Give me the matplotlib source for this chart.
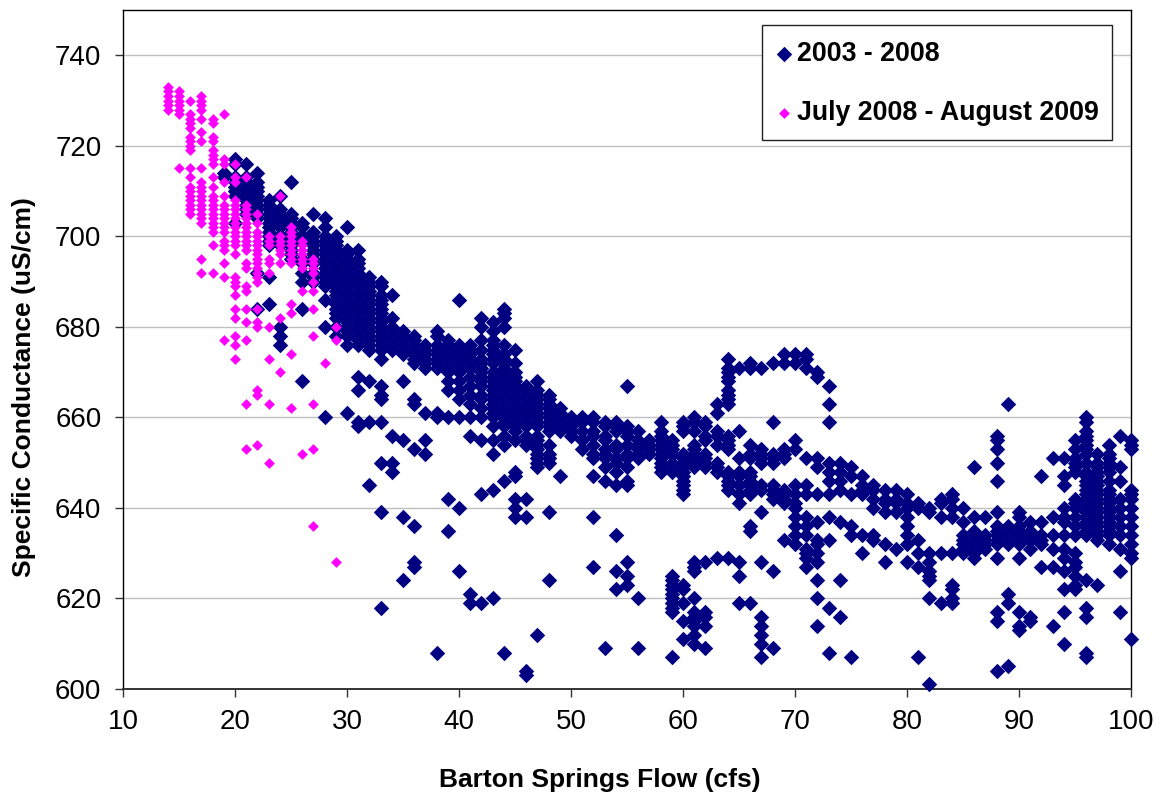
#!/usr/bin/env python3
"""Specific conductance against Barton Springs flow, two periods."""
import matplotlib

matplotlib.use("Agg")
import matplotlib.pyplot as plt
from matplotlib.patches import Rectangle

plt.rcParams["font.family"] = ["Liberation Sans", "DejaVu Sans"]

NAVY = "#000080"
PINK = "#ff00ff"

# values, one row per flow (cfs)
pink_flow = [14, 15, 16, 17, 18, 19, 20, 21, 22, 23, 24, 25, 26, 27, 28, 29]
pink_cond = [
    [733, 732, 731, 730, 729, 728],
    [732, 731, 730, 729, 728, 727, 715],
    [730, 727, 726, 725, 724, 722, 721, 720, 719, 715, 713, 711, 710, 709, 708, 707, 706, 705],
    [731, 730, 729, 728, 726, 723, 721, 715, 712, 711, 710, 709, 708, 707, 706, 705, 704, 703, 695, 692],
    [726, 725, 722, 721, 719, 718, 717, 716, 713, 711, 709, 708, 707, 706, 705, 704, 703, 702, 701, 698, 692],
    [727, 717, 716, 712, 709, 707, 706, 705, 704, 703, 702, 701, 699, 698, 697, 694, 691, 677],
    [716, 713, 712, 708, 707, 706, 705, 704, 703, 702, 701, 700, 699, 698, 696, 691, 690, 689, 687, 684, 682, 678, 676, 673],
    [713, 707, 706, 705, 704, 703, 702, 701, 700, 699, 698, 697, 694, 693, 689, 688, 684, 681, 677, 663, 653],
    [705, 703, 701, 700, 699, 698, 697, 696, 695, 694, 693, 692, 691, 690, 684, 681, 680, 666, 665, 654],
    [700, 699, 698, 695, 694, 692, 680, 673, 663, 650],
    [709, 700, 699, 698, 697, 696, 694, 682, 670],
    [702, 701, 700, 699, 698, 697, 696, 695, 694, 685, 683, 674, 662],
    [699, 698, 697, 696, 695, 694, 693, 688, 652],
    [695, 694, 693, 692, 690, 688, 684, 678, 663, 653, 636],
    [672],
    [680, 677, 628],
]

navy_flow = list(range(19, 101))
navy_cond = [
    [714, 713],  # 19
    [717, 716, 713, 712, 711, 710, 709, 703],
    [716, 713, 712, 711, 710, 709, 708, 705, 707, 706],
    [714, 712, 711, 710, 709, 708, 707, 706, 705, 704, 692, 684],
    [708, 707, 706, 705, 704, 703, 702, 701, 700, 699, 698, 691, 685],
    [709, 706, 705, 704, 703, 702, 700, 699, 698, 680, 678, 676],
    [712, 705, 704, 703, 702, 701, 700, 699, 698, 697, 696, 695],
    [703, 702, 700, 699, 695, 694, 692, 690, 684, 668],
    [705, 701, 700, 699, 698, 697, 696, 695, 694, 692, 691, 690],
    [704, 702, 700, 699, 698, 697, 696, 695, 694, 693, 692, 691, 690, 689, 686, 680, 660],
    [700, 699, 698, 697, 696, 695, 694, 693, 692, 691, 690, 689, 688, 687, 686, 685, 684, 683, 682, 680, 678],
    [702, 697, 696, 695, 694, 693, 692, 691, 690, 689, 688, 687, 686, 685, 684, 683, 682, 681, 680, 679, 678, 676, 661],
    [697, 695, 694, 693, 692, 691, 690, 689, 688, 687, 686, 685, 684, 683, 682, 681, 680, 679, 678, 677, 676, 669, 666, 659, 658],
    [691, 690, 689, 688, 687, 686, 685, 684, 683, 682, 681, 680, 679, 678, 677, 676, 675, 668, 659, 645],
    [690, 689, 687, 686, 685, 684, 683, 682, 681, 680, 679, 678, 677, 676, 675, 673, 667, 665, 664, 659, 650, 639, 618],
    [687, 682, 680, 679, 678, 677, 676, 675, 656, 650, 648],
    [679, 678, 677, 676, 675, 674, 668, 655, 638, 624],
    [678, 677, 676, 675, 674, 673, 672, 664, 663, 653, 636, 628, 627],
    [676, 675, 674, 673, 672, 671, 661, 655, 652],
    [679, 678, 676, 675, 674, 673, 672, 671, 661, 660, 608],
    [677, 676, 675, 674, 673, 672, 671, 670, 668, 666, 660, 642, 635],
    [686, 676, 675, 674, 673, 672, 671, 670, 668, 666, 664, 660, 640, 626],  # 40
    [676, 675, 674, 673, 672, 671, 669, 667, 665, 663, 660, 656, 621, 619],
    [682, 680, 677, 675, 673, 672, 671, 670, 669, 668, 667, 665, 664, 662, 660, 655, 643, 619],
    [681, 679, 677, 676, 675, 674, 673, 672, 670, 669, 668, 667, 666, 665, 664, 663, 662, 661, 660, 658, 655, 652, 644, 620],
    [684, 683, 682, 680, 676, 674, 673, 672, 671, 670, 669, 668, 667, 666, 665, 664, 663, 662, 661, 660, 659, 658, 656, 654, 646, 608],
    [675, 672, 670, 669, 668, 667, 666, 665, 664, 663, 662, 661, 660, 659, 658, 657, 655, 648, 647, 642, 640, 638],
    [667, 666, 665, 664, 663, 662, 661, 660, 659, 658, 656, 655, 654, 642, 638, 604, 603],
    [668, 666, 665, 664, 663, 662, 661, 660, 659, 658, 656, 655, 654, 653, 652, 651, 650, 649, 612],
    [665, 664, 663, 662, 661, 660, 659, 658, 657, 654, 652, 651, 650, 639, 624],
    [662, 661, 660, 659, 658, 657, 647],
    [660, 659, 658, 657, 656],  # 50
    [660, 659, 657, 655, 653],
    [660, 659, 657, 656, 654, 652, 651, 647, 638, 627],
    [659, 658, 656, 655, 653, 652, 651, 649, 646, 609],
    [659, 658, 657, 654, 653, 651, 650, 648, 645, 634, 626, 622],
    [667, 658, 657, 656, 654, 652, 651, 649, 646, 645, 628, 625, 623],
    [657, 655, 654, 653, 652, 651, 620, 609],
    [655, 654, 653, 652],
    [659, 657, 656, 655, 654, 653, 652, 651, 650, 649, 648],
    [655, 654, 653, 652, 650, 649, 648, 625, 624, 623, 622, 621, 620, 619, 618, 617, 607],
    [659, 658, 657, 652, 651, 650, 649, 648, 647, 646, 645, 644, 643, 623, 622, 619, 615, 611],  # 60
    [660, 659, 657, 654, 653, 652, 651, 650, 649, 628, 627, 626, 620, 617, 616, 615, 614, 612, 610],
    [659, 658, 656, 655, 652, 651, 650, 649, 628, 617, 616, 614, 609],
    [663, 661, 657, 656, 654, 650, 649, 648, 629],
    [673, 671, 670, 669, 668, 666, 665, 664, 663, 656, 655, 654, 653, 648, 647, 646, 645, 644, 629],
    [671, 657, 651, 648, 647, 645, 643, 641, 628, 625, 619],
    [672, 671, 654, 652, 651, 648, 647, 646, 645, 644, 643, 636, 635, 619],
    [671, 653, 652, 651, 650, 645, 644, 639, 628, 616, 614, 612, 610, 607],
    [672, 659, 652, 651, 650, 645, 644, 643, 642, 626, 609],
    [674, 672, 653, 652, 651, 644, 643, 642, 641, 633],
    [674, 672, 655, 653, 645, 643, 641, 640, 638, 636, 634, 632],  # 70
    [674, 673, 671, 651, 645, 643, 638, 636, 634, 631, 630, 629, 627],
    [670, 669, 651, 649, 643, 637, 633, 632, 630, 628, 624, 620, 614],
    [667, 663, 659, 650, 648, 646, 643, 638, 633, 618, 608],
    [650, 648, 646, 644, 637, 624, 616],
    [649, 647, 643, 636, 634, 607],
    [647, 645, 644, 643, 634, 630],
    [645, 644, 642, 640, 634, 633],
    [644, 642, 641, 639, 632, 628],
    [644, 642, 641, 639, 631],
    [643, 641, 640, 638, 636, 634, 632, 628],  # 80
    [641, 640, 633, 630, 627, 607],
    [640, 639, 630, 628, 626, 625, 624, 620, 601],
    [642, 641, 638, 630, 619],
    [643, 642, 640, 638, 630, 623, 622, 620, 619],
    [640, 637, 634, 633, 632, 631, 630],
    [649, 638, 635, 634, 633, 632, 631, 630, 629],
    [638, 634, 633, 632, 631],
    [656, 655, 653, 650, 646, 639, 636, 635, 634, 633, 632, 629, 617, 615, 604],
    [663, 636, 635, 634, 633, 632, 621, 619, 605],
    [639, 638, 636, 635, 634, 633, 632, 629, 617, 614, 613],  # 90
    [637, 635, 634, 633, 631, 616, 615],
    [647, 637, 634, 633, 632, 627],
    [651, 638, 634, 631, 627, 614],
    [651, 647, 645, 640, 638, 637, 634, 631, 629, 626, 622, 617, 610],
    [655, 653, 651, 650, 649, 648, 642, 641, 640, 638, 636, 634, 630, 628, 627, 625, 623, 622],
    [660, 659, 657, 656, 655, 654, 653, 652, 650, 648, 647, 646, 645, 644, 643, 642, 641, 640, 639, 638, 637, 636, 635, 634, 624, 618, 616, 608, 607],
    [652, 650, 649, 648, 647, 646, 645, 644, 643, 642, 641, 640, 639, 638, 637, 636, 635, 634, 633, 623],
    [654, 652, 651, 650, 649, 648, 646, 644, 643, 642, 641, 640, 639, 638, 637, 636, 635, 634, 632],
    [656, 649, 646, 642, 640, 638, 636, 634, 631, 626, 617],
    [655, 654, 653, 644, 643, 642, 640, 638, 636, 634, 632, 630, 629, 611],  # 100
]

x_ticks = list(range(10, 101, 10))
y_ticks = list(range(600, 741, 20))


def flatten(flows, rows):
    xs, ys = [], []
    for f, row in zip(flows, rows):
        xs += [f] * len(row)
        ys += row
    return xs, ys


fig = plt.figure(figsize=(11.65, 7.93), dpi=100)
ax = fig.add_axes([123 / 1165, 1 - 689 / 793, (1131 - 123) / 1165, (689 - 10) / 793])

ax.set_xlim(10, 100)
ax.set_ylim(600, 750)
ax.set_xticks(x_ticks)
ax.set_yticks(y_ticks)
ax.tick_params(axis="both", labelsize=20, length=5.5, width=1, color="#333333")
ax.tick_params(axis="x", pad=9)
ax.tick_params(axis="y", pad=10)
ax.grid(axis="y", color="#c0c0c0", lw=1)
ax.set_axisbelow(True)
for s in ax.spines.values():
    s.set_color("black")
    s.set_linewidth(1)
ax.spines["bottom"].set_linewidth(1.4)
ax.spines["bottom"].set_color("#333333")

x1, y1 = flatten(navy_flow, navy_cond)
x2, y2 = flatten(pink_flow, pink_cond)
ax.scatter(x1, y1, s=62, marker="D", color=NAVY, lw=0, clip_on=False, zorder=3, label="2003 - 2008")
ax.scatter(x2, y2, s=30, marker="D", color=PINK, lw=0, clip_on=False, zorder=4, label="July 2008 - August 2009")

ax.set_xlabel("Barton Springs Flow (cfs)", fontsize=19, fontweight="bold")
ax.xaxis.set_label_coords((600 - 123) / 1008, -(780 - 689) / 679, transform=ax.transAxes)
ax.xaxis.label.set_verticalalignment("center")
ax.set_ylabel("Specific Conductance (uS/cm)", fontsize=19, fontweight="bold")
ax.yaxis.set_label_coords(-(123 - 24) / 1008, (689 - 387) / 679, transform=ax.transAxes)
ax.yaxis.label.set_verticalalignment("center")

# legend box is drawn apart so its padding can differ from the text row spacing
ax.add_patch(Rectangle((762 / 1165, 1 - 140 / 793), 350 / 1165, 115 / 793, transform=fig.transFigure,
                       fc="white", ec="#222222", lw=1, zorder=9, clip_on=False))
leg = ax.legend(loc="center right", bbox_to_anchor=(1099 / 1165, 1 - 83.5 / 793), bbox_transform=fig.transFigure,
                prop={"weight": "bold", "size": 19.25}, frameon=False, borderaxespad=0, borderpad=0,
                labelspacing=1.22, handlelength=0.68, handletextpad=0.16, scatterpoints=1)
leg.set_zorder(10)

fig.savefig("out.png", dpi=100)
